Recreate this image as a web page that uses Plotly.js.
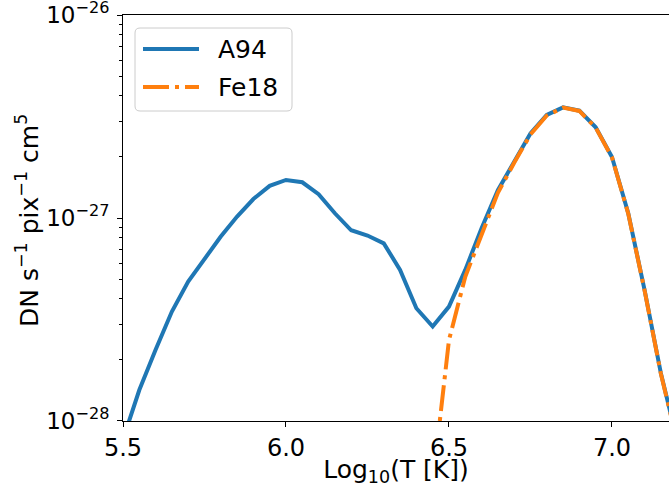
<!DOCTYPE html>
<html>
<head>
<meta charset="utf-8">
<script src="https://cdn.plot.ly/plotly-3.0.1.min.js"></script>
<style>html,body{margin:0;padding:0;overflow:hidden;background:#fff}</style>
</head>
<body>
<div id="chart" style="width:669px;height:487px"></div>
<script>
const logT = [5.50,5.55,5.60,5.65,5.70,5.75,5.80,5.85,5.90,5.95,6.00,6.05,6.10,6.15,6.20,6.25,6.30,6.35,6.40,6.45,6.50,6.55,6.60,6.65,6.70,6.75,6.80,6.85,6.90,6.95,7.00,7.05,7.10,7.15,7.20];
const a94 = [8.1e-29,1.42e-28,2.24e-28,3.46e-28,4.86e-28,6.33e-28,8.1e-28,1.016e-27,1.24e-27,1.44e-27,1.54e-27,1.50e-27,1.31e-27,1.055e-27,8.7e-28,8.2e-28,7.5e-28,5.55e-28,3.59e-28,2.92e-28,3.66e-28,5.55e-28,8.9e-28,1.37e-27,1.90e-27,2.61e-27,3.22e-27,3.51e-27,3.38e-27,2.80e-27,2.00e-27,1.055e-27,4.42e-28,1.72e-28,8.0e-29];
const fe18 = [1e-31,1e-31,1e-31,1e-31,1e-31,1e-31,1e-31,1e-31,1e-31,1e-31,1e-31,1e-31,1e-31,1e-31,1e-31,1e-31,1e-31,1e-30,5e-30,4.9e-29,2.5e-28,5.14e-28,8.4e-28,1.33e-27,1.87e-27,2.58e-27,3.2e-27,3.5e-27,3.37e-27,2.79e-27,1.99e-27,1.05e-27,4.4e-28,1.71e-28,7.9e-29];
const seriesNames = ["A94","Fe18"];
const seriesColors = ["#1f77b4","#ff7f0e"];
const yTickVals = [1e-28,1e-27,1e-26];
const yTickText = ["10<sup>−28</sup>","10<sup>−27</sup>","10<sup>−26</sup>"];
const xTickVals = [5.5,6.0,6.5,7.0];
const xTickText = ["5.5","6.0","6.5","7.0"];
const yTitle = 'DN s<sup>−1</sup> pix<sup>−1</sup> cm<sup>5</sup>';
const xTitle = 'Log<sub>10</sub>(T [K])';
const minorVals = [];
[1e-28,1e-27].forEach(b=>{for(let k=2;k<=9;k++)minorVals.push(k*b);});

const font = "DejaVu Sans, sans-serif";
const dashDot = "26px,6px,4px,6px";
const traces = [
  {x:logT,y:a94,name:seriesNames[0],mode:'lines',line:{color:seriesColors[0],width:4},showlegend:false},
  {x:logT,y:fe18,name:seriesNames[1],mode:'lines',line:{color:seriesColors[1],width:4,dash:dashDot},showlegend:false}
];

// plot area geometry (pixels) for placing the legend box and y title
const L=123, R=669, T=15, B=421;
const px = v => (v-L)/(R-L);
const py = v => (B-v)/(B-T);
function roundRect(x0,y0,x1,y1,r){
  const p=[];
  p.push('M',px(x0+r),py(y0));
  p.push('L',px(x1-r),py(y0));
  p.push('Q',px(x1),py(y0),px(x1),py(y0+r));
  p.push('L',px(x1),py(y1-r));
  p.push('Q',px(x1),py(y1),px(x1-r),py(y1));
  p.push('L',px(x0+r),py(y1));
  p.push('Q',px(x0),py(y1),px(x0),py(y1-r));
  p.push('L',px(x0),py(y0+r));
  p.push('Q',px(x0),py(y0),px(x0+r),py(y0));
  p.push('Z');
  return p.join(' ').replace(/ ([\d.\-]+) ([\d.\-]+)/g,' $1,$2');
}
const shapes = [
  {type:'path',xref:'paper',yref:'paper',path:roundRect(135,28,292,111,5),fillcolor:'rgba(255,255,255,0.8)',line:{color:'#cccccc',width:1},layer:'above'},
  {type:'line',xref:'paper',yref:'paper',x0:px(143),x1:px(199),y0:py(49),y1:py(49),line:{color:seriesColors[0],width:4},layer:'above'},
  {type:'line',xref:'paper',yref:'paper',x0:px(143),x1:px(199),y0:py(87),y1:py(87),line:{color:seriesColors[1],width:4,dash:dashDot},layer:'above'}
];
const annotations = [
  {xref:'paper',yref:'paper',x:px(216),y:py(49),xanchor:'left',yanchor:'middle',text:seriesNames[0],showarrow:false,font:{family:font,size:25,color:'#000'}},
  {xref:'paper',yref:'paper',x:px(216),y:py(87),xanchor:'left',yanchor:'middle',text:seriesNames[1],showarrow:false,font:{family:font,size:25,color:'#000'}},
  {xref:'paper',yref:'paper',x:px(27),y:py(220),xanchor:'center',yanchor:'middle',textangle:-90,text:yTitle,showarrow:false,font:{family:font,size:25,color:'#000'}}
];
const layout = {
  width:669,height:487,
  margin:{l:L,r:669-R,t:T,b:487-B},
  paper_bgcolor:'#fff',plot_bgcolor:'#fff',
  font:{family:font,size:23,color:'#000'},
  showlegend:false,
  shapes:shapes, annotations:annotations,
  xaxis:{range:[5.5,7.175],tickvals:xTickVals,ticktext:xTickText,ticks:'outside',ticklen:5,tickwidth:1,tickcolor:'#000',showline:true,linecolor:'#000',linewidth:1,mirror:true,showgrid:false,zeroline:false,
    title:{text:xTitle,font:{family:font,size:25},standoff:8},tickfont:{family:font,size:24}},
  yaxis:{type:'log',range:[-28.0005,-25.9995],tickmode:'array',tickvals:yTickVals,ticktext:yTickText,ticklabeloverflow:'allow',ticks:'outside',ticklen:5,tickwidth:1,tickcolor:'#000',ticklabelstandoff:3,showline:true,linecolor:'#000',linewidth:1,mirror:false,showgrid:false,zeroline:false,
    minor:{tickvals:minorVals,ticks:'outside',ticklen:3,tickcolor:'#000',showgrid:false},
    tickfont:{family:font,size:23}}
};
Plotly.newPlot('chart',traces,layout,{displayModeBar:false,staticPlot:true});
</script>
</body>
</html>
